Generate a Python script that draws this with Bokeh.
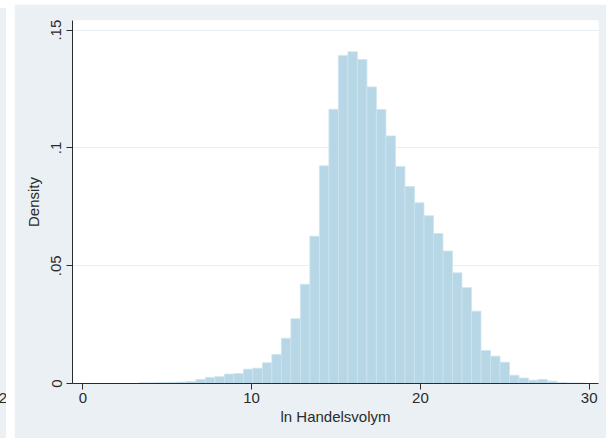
from bokeh.plotting import figure
from bokeh.layouts import row
from bokeh.models import Range1d, FixedTicker, ColumnDataSource, Div
from bokeh.embed import file_html
from bokeh.resources import INLINE

# Histogram of ln trade volume (density scale)
bin_start = 3.32
bin_width = 0.563
density = [
    0.0003, 0.0003, 0.0004, 0.0005, 0.0006, 0.0008, 0.0017, 0.0026,
    0.0029, 0.0040, 0.0042, 0.0061, 0.0065, 0.0088, 0.0123, 0.0192,
    0.0275, 0.0421, 0.0625, 0.0924, 0.1164, 0.1392, 0.1408, 0.1375,
    0.1259, 0.1163, 0.1051, 0.0921, 0.0836, 0.0767, 0.0712, 0.0637,
    0.0562, 0.0470, 0.0407, 0.0307, 0.0140, 0.0116, 0.0090, 0.0035,
    0.0023, 0.0014, 0.0017, 0.0010, 0.0004, 0.0002, 0.0002,
]
x_ticks = [0, 10, 20, 30]
y_ticks = [0, 0.05, 0.1, 0.15]
y_tick_labels = ["0", ".05", ".1", ".15"]
x_title = "ln Handelsvolym"
y_title = "Density"

FONT = "Liberation Sans"
BG = "#eaf0f3"
INK = "#2b2b2b"

lefts = [bin_start + i * bin_width for i in range(len(density))]
src = ColumnDataSource(dict(
    left=lefts,
    right=[l + bin_width for l in lefts],
    top=density,
    bottom=[0] * len(density),
))

p = figure(
    width=592, height=434,
    x_range=Range1d(-0.61, 30.55), y_range=Range1d(0, 0.1541),
    output_backend="svg", toolbar_location=None,
    min_border_left=58, min_border_right=8,
    min_border_top=16, min_border_bottom=55,
    background_fill_color="white", border_fill_color=BG,
    outline_line_color=None,
    margin=(4, 0, 0, 8),
)

p.quad(left="left", right="right", top="top", bottom="bottom", source=src,
       fill_color="#b7d7e6", line_color="#cde4ee", line_width=0.8)

# axes
for ax in (p.xaxis[0], p.yaxis[0]):
    ax.axis_line_color = INK
    ax.major_tick_line_color = INK
    ax.major_tick_out = 6
    ax.major_tick_in = 0
    ax.minor_tick_line_color = None
    ax.major_label_text_font = FONT
    ax.major_label_text_font_size = "15px"
    ax.major_label_text_color = INK
    ax.axis_label_text_font = FONT
    ax.axis_label_text_font_size = "15px"
    ax.axis_label_text_font_style = "normal"
    ax.axis_label_text_color = INK

p.xaxis.ticker = FixedTicker(ticks=x_ticks)
p.xaxis.axis_label = x_title
p.xaxis.major_label_standoff = 3
p.xaxis.axis_label_standoff = 2

p.yaxis.ticker = FixedTicker(ticks=y_ticks)
p.yaxis.major_label_overrides = {t: s for t, s in zip(y_ticks, y_tick_labels)}
p.yaxis.major_label_orientation = "vertical"
p.yaxis.axis_label = y_title
p.yaxis.major_label_standoff = 5
p.yaxis.axis_label_standoff = 7

p.xgrid.grid_line_color = None
p.ygrid.ticker = FixedTicker(ticks=y_ticks[1:])
p.ygrid.grid_line_color = "#e8eff2"
p.ygrid.grid_line_width = 1.2

# edge of the neighbouring panel on the left
side = Div(
    text=('<div style="position:absolute; left:0; top:0; width:6px; height:430px; '
          'background:#eaf0f3;"></div>'
          '<div style="position:absolute; right:-1px; top:381px; '
          'font-family:\'Liberation Sans\'; font-size:15px; line-height:17px; '
          'color:#2b2b2b;">2</div>'),
    width=6, height=430, margin=(8, 0, 0, 0),
    styles={"background-color": BG, "overflow": "hidden", "position": "relative",
            "flex-shrink": "0", "min-width": "6px"},
)

layout = row(side, p)
open("out.html", "w").write(file_html(layout, INLINE))
